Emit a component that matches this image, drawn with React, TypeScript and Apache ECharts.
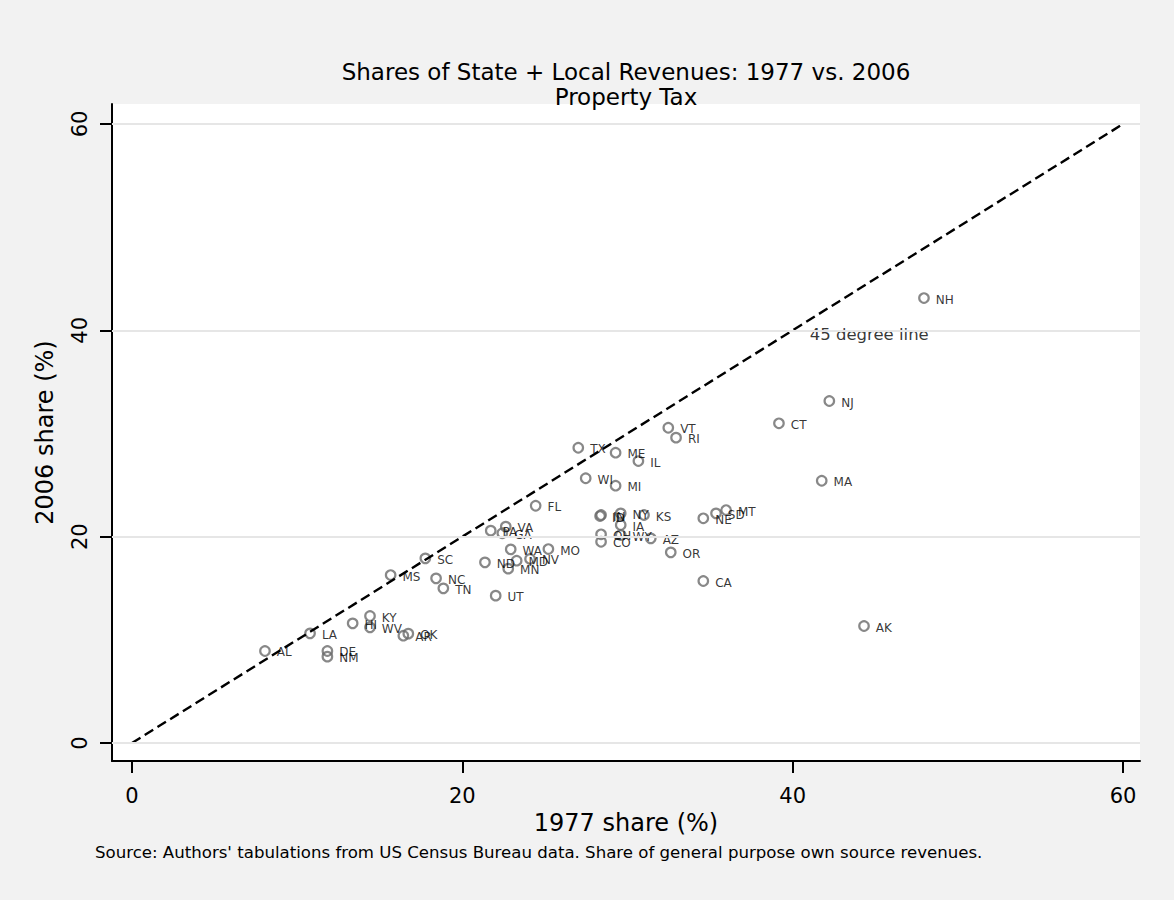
import React, { useEffect, useRef } from "react";
import * as echarts from "echarts";

// Property tax as a share of state + local own-source revenues, by state (%)
const states = [
  "AL", "LA", "HI", "KY", "WV", "DE", "NM", "AR", "OK", "MS",
  "SC", "NC", "TN", "ND", "UT", "VA", "PA", "GA", "WA", "MO",
  "MN", "MD", "NV", "FL", "TX", "ME", "IL", "WI", "MI", "IN",
  "ID", "NY", "KS", "IA", "OH", "CO", "WY", "AZ", "OR", "CA",
  "NE", "SD", "MT", "VT", "RI", "CT", "NJ", "MA", "NH", "AK",
];
const share1977 = [
  8.05, 10.78, 13.36, 14.41, 14.41, 11.83, 11.83, 16.43, 16.73, 15.66,
  17.76, 18.41, 18.85, 21.37, 22.02, 22.63, 21.72, 22.42, 22.93, 25.21,
  22.78, 23.29, 24.1, 24.44, 27.02, 29.28, 30.66, 27.47, 29.28, 28.4,
  28.34, 29.59, 31.0, 29.59, 28.4, 28.4, 29.59, 31.41, 32.62, 34.59,
  34.59, 35.36, 35.97, 32.47, 32.94, 39.17, 42.22, 41.76, 47.95, 44.32,
];
const share2006 = [
  8.92, 10.63, 11.6, 12.31, 11.21, 8.92, 8.37, 10.4, 10.6, 16.28,
  17.9, 15.96, 14.99, 17.51, 14.28, 20.97, 20.58, 20.33, 18.77, 18.8,
  16.9, 17.67, 17.84, 23.0, 28.62, 28.14, 27.33, 25.66, 24.94, 22.1,
  22.0, 22.26, 22.1, 21.13, 20.23, 19.51, 20.16, 19.84, 18.48, 15.7,
  21.78, 22.26, 22.58, 30.56, 29.6, 30.99, 33.15, 25.42, 43.13, 11.34,
];

const axisTicks = [0, 20, 40, 60];
const gridValues = [0, 20, 40, 60];
const diagonal = [[0, 0], [60, 60]];
const diagonalNote = { x: 41, y: 39.55, text: "45 degree line" };

const titleText = "Shares of State + Local Revenues: 1977 vs. 2006";
const subtitleText = "Property Tax";
const xTitle = "1977 share (%)";
const yTitle = "2006 share (%)";
const sourceNote =
  "Source: Authors' tabulations from US Census Bureau data. Share of general purpose own source revenues.";

const FONT = "DejaVu Sans";

export default function App() {
  const ref = useRef<HTMLDivElement>(null);

  useEffect(() => {
    if (!ref.current) return;
    const chart = echarts.init(ref.current, null, { renderer: "svg" });

    const points = states.map((s, i) => ({
      name: s,
      value: [share1977[i], share2006[i]],
    }));

    chart.setOption({
      animation: false,
      backgroundColor: "#f2f2f2",
      textStyle: { fontFamily: FONT },
      title: [
        {
          text: titleText,
          left: 626,
          top: 60,
          textAlign: "center",
          padding: 0,
          textStyle: { fontFamily: FONT, fontSize: 23, fontWeight: "normal", color: "#000" },
        },
        {
          text: subtitleText,
          left: 626,
          top: 85,
          textAlign: "center",
          padding: 0,
          textStyle: { fontFamily: FONT, fontSize: 23, fontWeight: "normal", color: "#000" },
        },
      ],
      grid: {
        left: 112,
        top: 104,
        width: 1028,
        height: 657,
        show: true,
        backgroundColor: "#ffffff",
        borderWidth: 0,
      },
      xAxis: {
        type: "value",
        min: -1.211,
        max: 61.03,
        name: xTitle,
        nameLocation: "middle",
        nameGap: 47,
        nameTextStyle: { fontFamily: FONT, fontSize: 24, color: "#000" },
        axisLine: { show: true, onZero: false, lineStyle: { color: "#000", width: 2 } },
        axisTick: { show: true, length: 12, lineStyle: { color: "#000", width: 2 }, customValues: axisTicks },
        axisLabel: { fontFamily: FONT, fontSize: 21, color: "#000", margin: 24, customValues: axisTicks },
        splitLine: { show: false },
      },
      yAxis: {
        type: "value",
        min: -1.745,
        max: 61.94,
        name: yTitle,
        nameLocation: "middle",
        nameGap: 55,
        nameTextStyle: { fontFamily: FONT, fontSize: 24, color: "#000" },
        axisLine: { show: true, onZero: false, lineStyle: { color: "#000", width: 2 } },
        axisTick: { show: true, length: 12, lineStyle: { color: "#000", width: 2 }, customValues: axisTicks },
        axisLabel: { fontFamily: FONT, fontSize: 21, color: "#000", margin: 22, rotate: 90, customValues: axisTicks },
        splitLine: { show: false },
      },
      graphic: [
        {
          type: "text",
          left: 95,
          top: 844,
          style: { text: sourceNote, fontFamily: FONT, fontSize: 16.6, fill: "#000" },
        },
      ],
      series: [
        {
          // horizontal reference lines
          type: "line",
          data: [],
          z: 1,
          silent: true,
          markLine: {
            silent: true,
            symbol: "none",
            label: { show: false },
            lineStyle: { color: "#e6e6e6", width: 2, type: "solid" },
            data: gridValues.map((v) => ({ yAxis: v })),
          },
        },
        {
          type: "scatter",
          z: 3,
          data: points,
          symbol: "circle",
          symbolSize: 9.5,
          itemStyle: { color: "rgba(0,0,0,0)", borderColor: "#6a6a6a", borderWidth: 2.2 },
          label: {
            show: true,
            position: "right",
            distance: 6,
            offset: [0, 1.5],
            formatter: (p: any) => p.name,
            fontFamily: FONT,
            fontSize: 12,
            color: "#000",
          },
          emphasis: { disabled: true },
        },
        {
          type: "line",
          z: 4,
          data: diagonal,
          symbol: "none",
          lineStyle: { color: "#000", width: 2.4, type: [10, 5] },
          emphasis: { disabled: true },
        },
        {
          type: "scatter",
          z: 4,
          data: [[diagonalNote.x, diagonalNote.y]],
          symbolSize: 1,
          itemStyle: { color: "rgba(0,0,0,0)" },
          label: {
            show: true,
            position: "right",
            distance: 0,
            formatter: diagonalNote.text,
            fontFamily: FONT,
            fontSize: 16.5,
            color: "#000",
          },
          emphasis: { disabled: true },
        },
      ],
    });

    return () => chart.dispose();
  }, []);

  return (
    <div
      ref={ref}
      style={{ position: "absolute", left: 0, top: 0, width: 1174, height: 900 }}
    />
  );
}
